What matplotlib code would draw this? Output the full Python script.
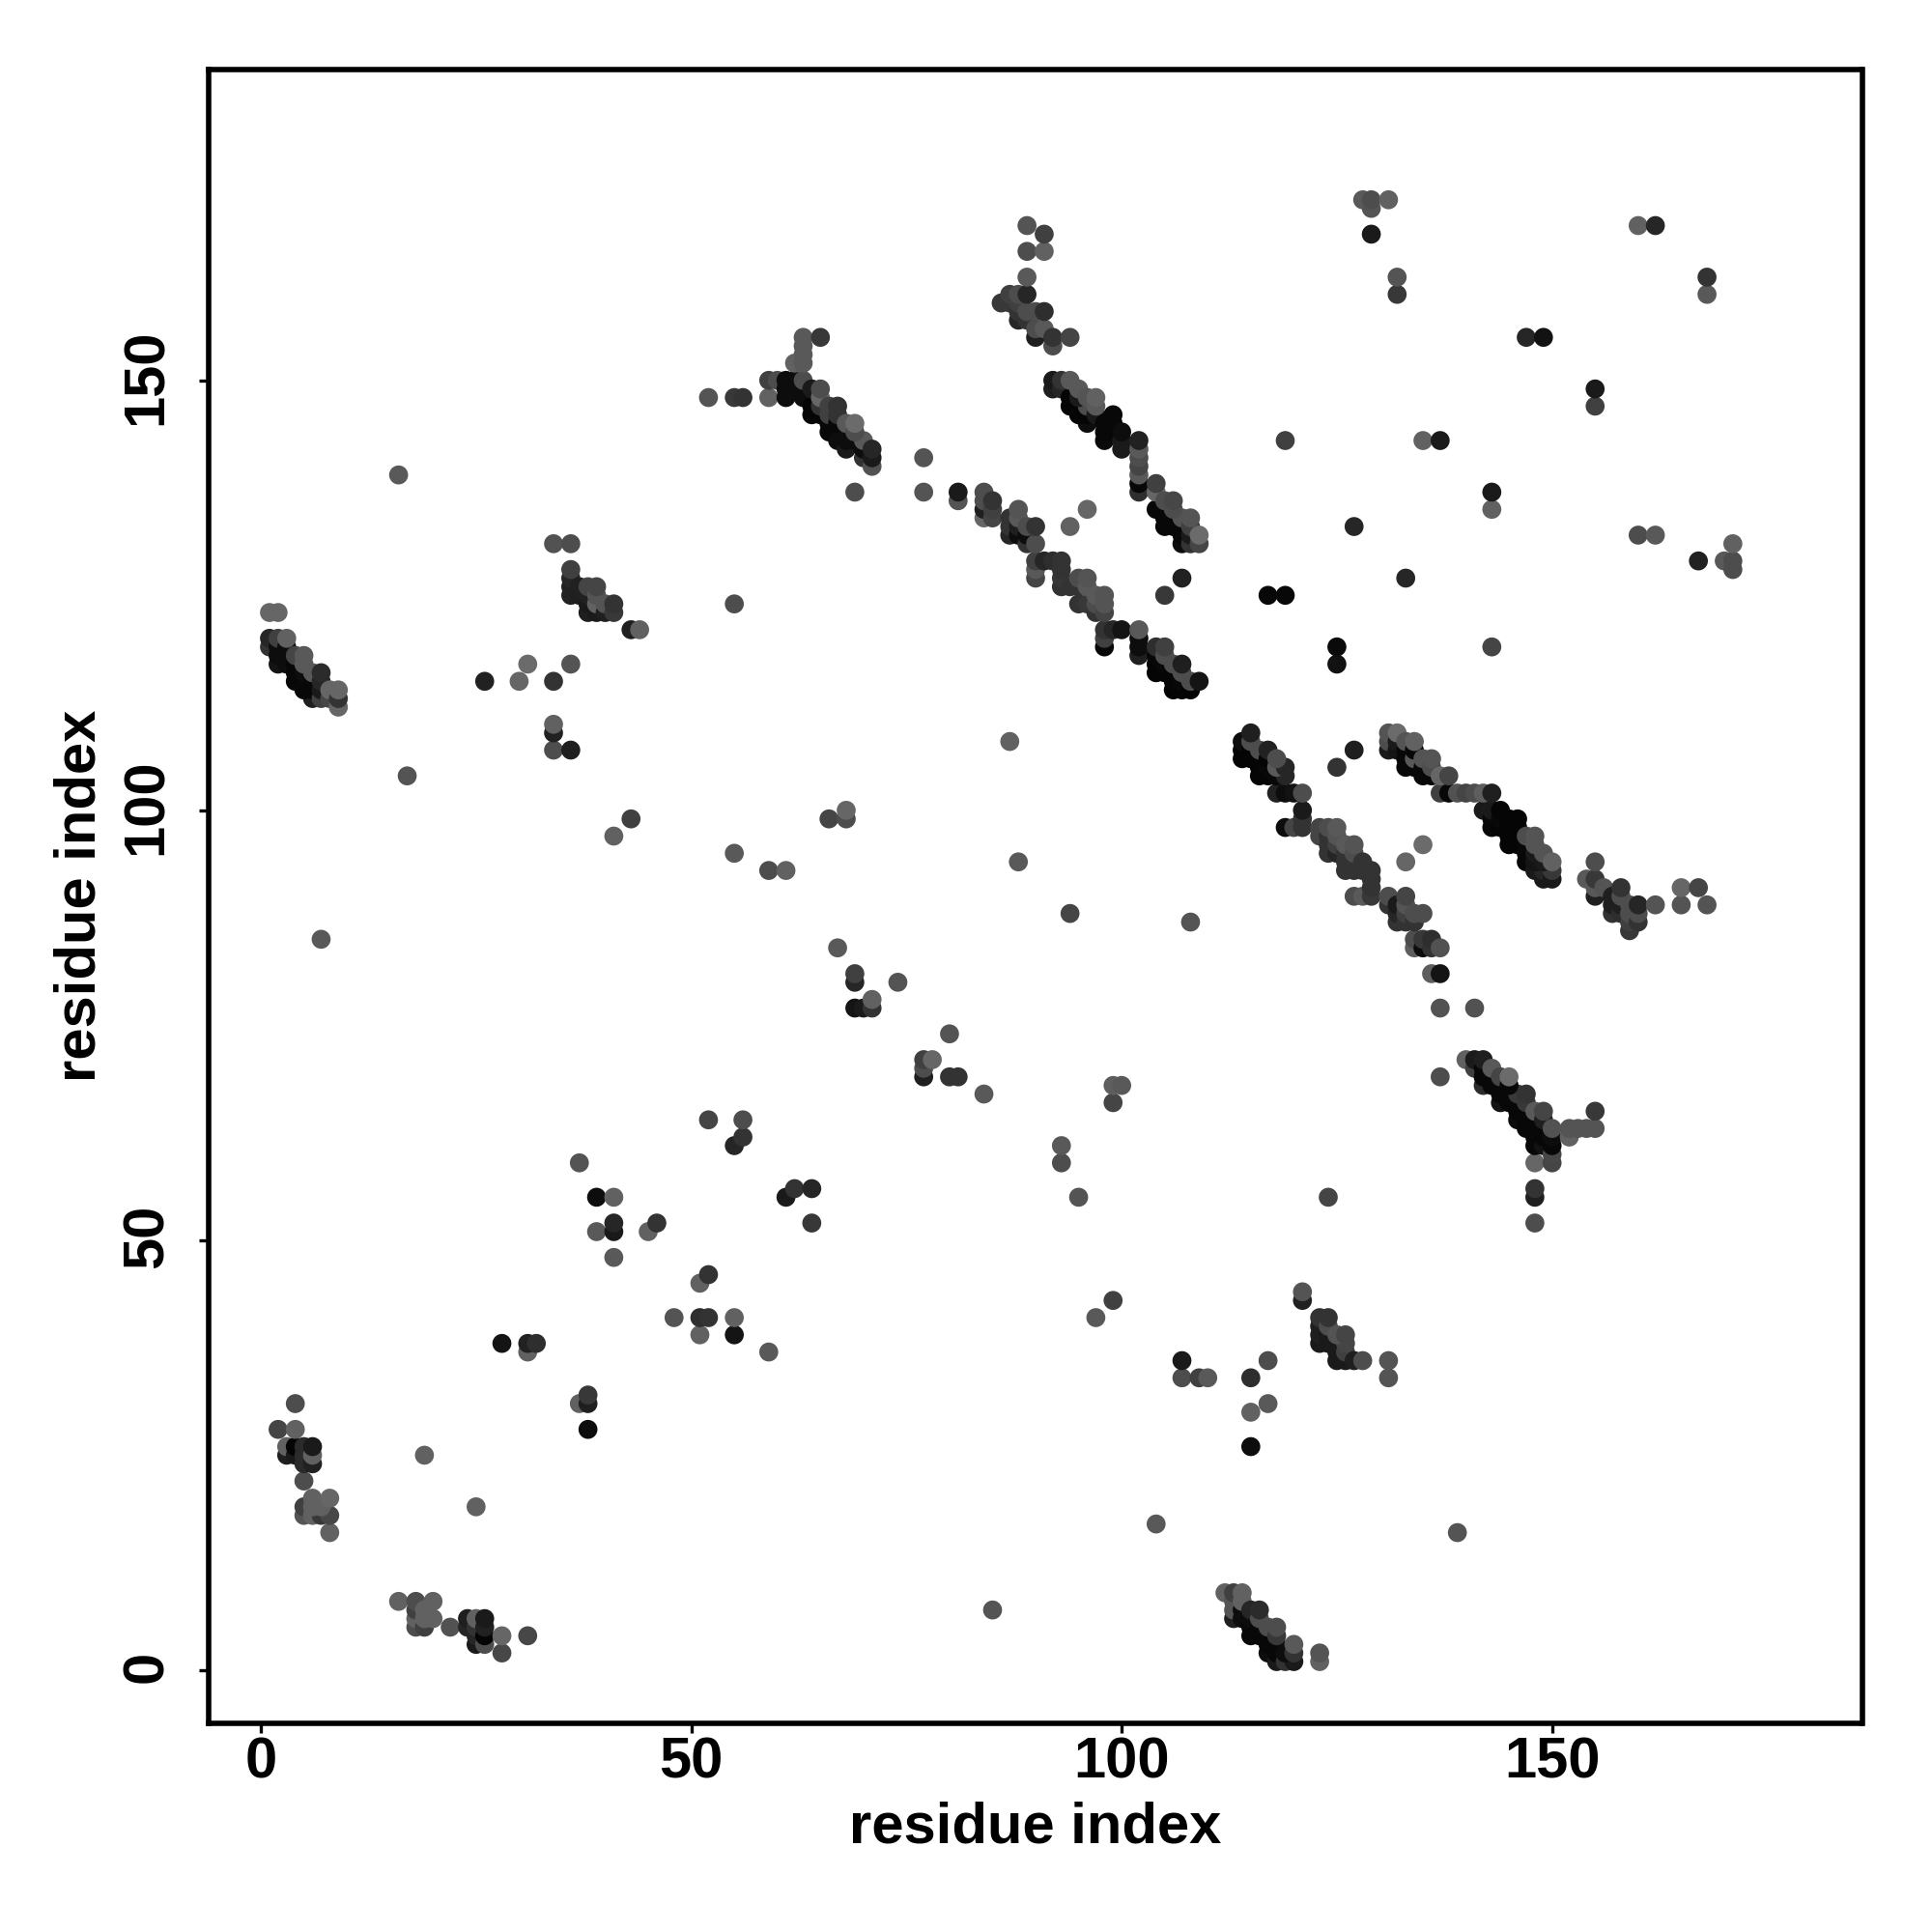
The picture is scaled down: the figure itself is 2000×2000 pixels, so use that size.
import numpy as np
import matplotlib
matplotlib.use('Agg')
import matplotlib.pyplot as plt
from matplotlib.transforms import ScaledTranslation

# contact pairs: (residue i, residue j, grey level of the dot)
top_middle = [(89,168,.33),(91,167,.25),(89,165,.3),(91,165,.38),(89,162,.35),(89,160,.15),(86,159,.22),(87,160,.25),
    (88,160,.3),(87,159,.22),(88,159,.25),(88,158,.2),(89,158,.3),(90,158,.3),(91,158,.18),(88,157,.15),(89,157,.2),
    (90,156,.3),(91,156,.35),(90,155,.12),(92,155,.2),(94,155,.27),(92,154,.3)]
band_a_top = [(63,155,.35),(65,155,.22),(63,154,.35),(63,153,.35),(62,152,.38),(63,152,.35),(59,150,.25),(60,150,.3),
    (61,150,.05),(62,150,.05),(63,150,.3),(59,148,.38),(61,148,.05),(61,149,.05),(62,149,.05),(63,148,.05),(64,149,.1),
    (65,149,.3),(65,148,.4),(64,146,.02),(64,147,.02),(65,147,.2),(66,147,.25),(67,147,.2),(66,146,.25),(67,146,.2),(65,146,.02)]
band_a_low = [(66,144,.03),(66,145,.03),(67,145,.03),(68,145,.35),(69,145,.42),(67,143,.05),(68,142,.1),(68,143,.05),
    (69,143,.05),(70,143,.35),(69,144,.3),(71,142,.15),(70,142,.05),(71,141,.1),(70,141,.2),(71,140,.32),(69,137,.3),
    (77,141,.33),(77,137,.33),(81,137,.1),(81,136,.33)]
band_b_top = [(84,137,.3),(84,136,.3),(84,135,.12),(84,134,.4),(85,136,.2),(85,135,.25),(85,134,.27),(96,135,.4),(94,133,.38),
    (88,135,.33),(87,134,.2),(88,134,.35),(87,133,.2),(88,133,.12),(87,132,.15),(89,133,.3),(90,133,.2),(88,132,.05),
    (89,132,.05),(89,131,.2),(90,131,.3)]
band_b_mid = [(90,129,.25),(91,129,.15),(92,129,.18),(93,129,.2),(90,128,.35),(90,127,.27),(93,128,.2),(93,127,.22),(93,126,.2),
    (95,127,.3),(96,127,.33),(94,126,.2),(95,126,.2),(96,126,.35),(97,125,.35),(98,125,.33),(95,124,.2),(96,124,.22),
    (97,124,.3),(98,124,.33),(97,123,.2),(98,123,.27)]
band_b_low = [(98,121,.2),(99,121,.15),(100,121,.08),(102,121,.35),(98,120,.25),(98,119,.03),(102,120,.05),(102,119,.05),
    (102,118,.12),(104,119,.18),(105,119,.25),(104,118,.03),(104,117,.02),(104,116,.02),(105,118,.3),(105,117,.03),
    (106,117,.3),(107,117,.12),(106,116,.02),(106,115,.02),(107,116,.3),(108,115,.3),(109,115,.08),(105,116,.02),(107,115,.03),
    (106,114,.01),(107,114,.02),(108,114,.01)]
middle_scatter = [(107,127,.13),(105,125,.22),(117,125,.03),(119,125,.03),(127,133,.15),(125,119,.04),(125,117,.07)]
band_c_top = [(92,150,.1),(93,150,.2),(94,150,.35),(92,149,.12),(93,149,.15),(94,148,.02),(94,147,.02),(95,149,.35),(96,148,.33),
    (97,148,.38),(97,147,.35),(96,147,.3),(95,148,.1),(96,145,.05),(96,146,.02),(95,146,.02),(95,147,.02),(97,146,.1),(99,146,.03),
    (99,145,.03),(98,145,.03),(98,143,.04),(98,144,.03),(100,144,.05),(99,144,.03),(100,142,.1),(100,143,.1)]
band_c_low = [(102,143,.13),(102,142,.35),(102,141,.3),(102,140,.27),(102,139,.35),(102,138,.03),(102,137,.18),(104,138,.25),
    (104,137,.4),(105,136,.3),(106,136,.28),(104,135,.03),(105,135,.03),(105,134,.03),(105,133,.03),(106,133,.03),(106,134,.03),
    (107,134,.33),(108,134,.33),(107,133,.03),(107,132,.03),(107,131,.05),(108,132,.1),(108,133,.25),(108,131,.2),(109,132,.42),(109,131,.27),(106,135,.3)]
band_d_top = [(115,109,.12),(114,108,.05),(114,107,.02),(114,106,.02),(115,108,.3),(116,107,.3),(117,107,.13),(115,107,.02),(115,106,.02),
    (116,106,.02),(116,105,.02),(116,104,.02),(117,105,.03),(117,104,.02),(117,106,.02),(119,105,.15),(119,104,.15),(118,105,.35),(118,106,.3),(118,104,.03),
    (118,102,.13),(119,102,.05),(120,102,.07),(121,102,.3),(121,100,.1),(121,99,.2),(119,98,.05),(120,98,.27),(121,98,.2)]
band_d_mid = [(123,98,.27),(124,98,.3),(125,98,.35),(123,97,.27),(124,97,.2),(124,96,.2),(125,97,.33),(124,95,.2),(125,95,.15),
    (125,96,.25),(126,96,.35),(127,96,.33),(126,94,.2),(126,95,.2),(127,95,.3),(126,93,.2),(127,93,.2),(128,93,.2),(129,93,.2),(127,94,.2),
    (128,94,.2),(129,92,.2),(129,91,.2),(127,90,.3),(128,90,.35),(129,90,.22)]
band_d_low = [(131,90,.3),(133,90,.27),(131,89,.2),(132,89,.1),(133,89,.33),(132,88,.15),(133,88,.25),(134,88,.3),(135,88,.3),(132,87,.2),(133,87,.2),(134,87,.2),
    (134,85,.3),(135,85,.22),(136,85,.18),(134,84,.37),(135,84,.05),(136,84,.2),(137,84,.32),(136,81,.37),(137,81,.08),(137,77,.32),(141,77,.32),
    (125,105,.2),(127,107,.12),(135,96,.42),(133,94,.4)]
band_e_top = [(131,109,.33),(132,109,.42),(131,108,.3),(131,107,.1),(132,107,.08),(132,108,.1),(133,108,.33),(134,108,.38),(133,107,.03),(133,106,.03),(133,105,.03),
    (134,107,.03),(134,106,.35),(134,105,.03),(135,106,.33),(136,106,.33),(135,104,.03),(135,105,.03),(136,105,.3),(136,104,.03),(137,104,.4),(138,104,.27),
    (137,102,.25),(138,102,.03),(139,102,.32),(140,102,.27),(141,102,.3),(142,102,.37),(143,102,.12)]
band_e_low = [(142,100,.1),(143,100,.1),(144,100,.02),(145,99,.02),(146,99,.02),(143,98,.03),(143,99,.03),(144,99,.03),(144,98,.02),(145,98,.02),(145,97,.02),
    (145,96,.02),(146,98,.02),(146,97,.02),(146,96,.02),(147,97,.3),(148,97,.33),(147,96,.03),(148,96,.33),(147,94,.03),(147,95,.03),(148,95,.1),
    (149,95,.33),(150,94,.38),(149,93,.15),(150,93,.22),(149,92,.1),(150,92,.1),(148,94,.08),(149,94,.1),(148,93,.1)]
right_tail = [(155,94,.3),(154,92,.35),(155,92,.22),(155,91,.35),(156,91,.33),(155,90,.12),(158,91,.2),(157,90,.12),(158,90,.3),(157,89,.12),(158,89,.12),
    (160,89,.15),(162,89,.33),(157,88,.2),(158,88,.18),(159,88,.3),(160,88,.3),(159,89,.3),(160,87,.2),(159,87,.25),(159,86,.22),(165,91,.4),(167,91,.27),(165,89,.33),(168,89,.33)]
band_f_top = [(137,69,.3),(140,71,.38),(141,71,.1),(142,71,.12),(141,70,.25),(142,70,.03),(143,70,.35),(142,69,.03),(142,68,.17),(143,69,.03),(144,69,.27),
    (145,69,.42),(143,68,.03),(144,68,.03),(144,67,.03),(144,66,.08),(146,67,.22),(147,67,.2),(145,68,.03),(145,67,.03),(145,66,.03),(146,66,.03),(147,66,.22)]
band_f_low = [(146,65,.03),(146,64,.05),(147,65,.03),(148,65,.35),(149,65,.27),(147,64,.03),(148,64,.03),(149,64,.12),(147,63,.03),(148,63,.03),(149,63,.03),(150,63,.32),
    (148,62,.03),(149,62,.03),(148,61,.03),(149,61,.07),(150,62,.05),(150,61,.03),(150,60,.28),(150,59,.27),(148,59,.4),
    (152,63,.33),(153,63,.33),(154,63,.33),(155,63,.33),(152,62,.38),(155,65,.22),(148,56,.2),(148,55,.12),(148,52,.3)]
band_g = [(1,123,.4),(2,123,.4),(1,120,.15),(2,120,.25),(3,120,.38),(1,119,.2),(2,119,.05),(2,118,.05),(2,117,.08),(3,119,.05),(3,118,.05),(3,117,.05),(4,118,.27),(5,118,.35),
    (4,117,.03),(5,117,.35),(4,116,.03),(4,115,.03),(5,116,.05),(6,116,.35),(7,116,.17),(5,115,.03),(6,115,.03),(7,115,.15),(6,114,.03),(6,113,.12),(5,114,.03),
    (7,114,.1),(7,113,.25),(8,114,.4),(9,114,.4),(8,113,.28),(9,113,.2),(9,112,.4)]
left_upper_scatter = [(26,115,.13),(30,115,.4),(31,117,.42),(34,115,.2),(36,117,.33),(34,110,.38),(34,109,.13),(34,107,.3),(36,107,.12)]
band_h = [(34,131,.32),(36,131,.3),(36,128,.25),(36,127,.15),(36,126,.13),(36,125,.13),(37,126,.13),(37,125,.12),(38,126,.27),(39,126,.27),(38,125,.13),(39,125,.33),
    (38,124,.1),(38,123,.12),(39,124,.38),(39,123,.1),(40,124,.33),(40,123,.12),(41,124,.2),(41,123,.22),(43,121,.12),(44,121,.38)]
bottom_left = [(4,31,.3),(2,28,.27),(4,28,.38),(3,26,.38),(4,26,.02),(5,26,.17),(6,26,.1),(3,25,.12),(4,25,.1),(5,25,.17),(6,25,.38),(5,24,.17),(6,24,.13),(5,22,.3),
    (5,19,.25),(6,20,.38),(8,20,.4),(5,18,.33),(6,18,.38),(7,18,.22),(8,18,.28),(8,16,.38),(7,19,.38),(6,19,.38),(19,25,.38),(25,19,.38)]
bottom_band_left = [(16,8,.38),(18,8,.3),(20,8,.38),(18,7,.25),(19,7,.38),(18,6,.38),(19,6,.38),(20,6,.38),(18,5,.3),(19,5,.25),(22,5,.32),(24,6,.12),(25,6,.38),(26,6,.1),
    (24,5,.15),(25,5,.2),(26,5,.13),(25,4,.15),(26,4,.02),(28,4,.4),(31,4,.28),(25,3,.1),(26,3,.3),(28,2,.28)]
bottom_band_right = [(112,9,.38),(113,9,.25),(114,9,.38),(113,8,.33),(114,8,.38),(113,7,.33),(113,6,.12),(114,6,.05),(114,7,.05),(115,7,.15),(116,7,.17),(115,6,.05),(116,6,.3),
    (115,5,.03),(115,4,.03),(116,5,.03),(116,4,.03),(117,5,.3),(118,5,.3),(117,4,.03),(118,4,.22),(117,3,.03),(117,2,.05),(118,3,.03),(118,2,.03),(118,1,.1),(119,1,.2),
    (120,3,.35),(120,2,.2),(120,1,.1),(119,2,.05),(123,2,.33),(123,1,.38)]
bottom_cluster = [(121,44,.33),(121,43,.13),(123,41,.2),(124,41,.2),(123,40,.12),(123,39,.12),(123,38,.1),(124,40,.3),(124,39,.1),(124,38,.1),(126,39,.27),(126,38,.27),(125,39,.33),
    (125,38,.1),(125,36,.1),(125,37,.1),(126,37,.25),(126,36,.1),(127,36,.12),(128,36,.3),(131,36,.33),(131,34,.33)]
top_right_scatter = [(128,171,.35),(129,171,.3),(131,171,.38),(129,170,.33),(129,167,.1),(132,162,.33),(132,160,.22),(160,168,.38),(162,168,.15),(168,162,.2),(168,160,.35),
    (147,155,.15),(149,155,.07),(155,149,.1),(155,147,.25),(119,143,.25),(135,143,.38),(137,143,.1),(143,137,.1),(143,135,.38),(133,127,.15),(160,132,.3),(162,132,.35),
    (167,129,.13),(171,131,.38),(170,129,.35),(171,129,.3),(171,128,.3),(143,119,.27)]
left_scatter = [(16,139,.35),(17,104,.33),(7,85,.35),(55,124,.3),(52,148,.33),(55,148,.22),(56,148,.2),(43,99,.25),(41,97,.38),(55,95,.35),(59,93,.3),(61,93,.38),
    (66,99,.27),(68,99,.3),(68,100,.4),(88,94,.35),(94,88,.27),(108,87,.33),(87,108,.38)]
diag_scatter = [(67,84,.35),(69,81,.25),(69,80,.15),(69,77,.08),(71,77,.2),(70,77,.1),(71,78,.38),(74,80,.33),(77,71,.25),(78,71,.4),(77,69,.12),(77,70,.3),(80,74,.33),
    (80,69,.2),(81,69,.2),(84,67,.35),(99,68,.37),(100,68,.35),(99,66,.27),(93,61,.35),(93,59,.3),(95,55,.33),(124,55,.27)]
lower_scatter = [(56,62,.2),(55,61,.15),(56,64,.3),(52,64,.27),(37,59,.33),(39,55,.05),(41,55,.38),(41,52,.15),(41,51,.1),(39,51,.35),(46,52,.2),(45,51,.38),(41,48,.35),
    (61,55,.1),(62,56,.2),(64,56,.15),(64,52,.22),(52,46,.2),(51,45,.38),(48,41,.33),(51,41,.18),(52,41,.2),(55,41,.38),(51,39,.38),(55,39,.08),(59,37,.35),
    (28,38,.08),(31,38,.13),(32,38,.18),(31,37,.38),(38,32,.22),(37,31,.38),(38,31,.12),(38,28,.05)]
bottom_scatter = [(104,17,.35),(139,16,.33),(85,7,.33),(97,41,.35),(99,43,.25),(107,36,.1),(107,34,.3),(109,34,.25),(110,34,.35),(115,34,.18),(115,30,.38),(117,31,.35),(117,36,.3),(115,26,.05)]

tick_values = [0, 50, 100, 150]
axis_label = 'residue index'

if __name__ == '__main__':
    regions = [top_middle, band_a_top, band_a_low, band_b_top, band_b_mid, band_b_low, middle_scatter, band_c_top, band_c_low,
               band_d_top, band_d_mid, band_d_low, band_e_top, band_e_low, right_tail, band_f_top, band_f_low, band_g,
               left_upper_scatter, band_h, bottom_left, bottom_band_left, bottom_band_right, bottom_cluster,
               top_right_scatter, left_scatter, diag_scatter, lower_scatter, bottom_scatter]
    pts = np.array([p for r in regions for p in r])
    x, y, g = pts[:, 0], pts[:, 1], pts[:, 2]

    plt.rcParams['font.family'] = ['Liberation Sans', 'DejaVu Sans']
    fig = plt.figure(figsize=(10, 10), dpi=200)
    ax = fig.add_axes([215.7 / 2000, 1 - 1783.7 / 2000, (1927.5 - 215.7) / 2000, (1783.7 - 71.5) / 2000])

    # upper right dots end up on top, as in the bands of the original
    order = np.argsort(x + y, kind='stable')
    ax.scatter(x[order], y[order], c=[str(v) for v in g[order]], s=50, linewidths=0, zorder=3)

    ax.set_xlim(-6.1, 186.0)
    ax.set_ylim(-6.15, 186.2)
    ax.set_xticks(tick_values)
    ax.set_yticks(tick_values)
    ax.set_xticklabels(tick_values, fontsize=21.5, fontweight='bold')
    ax.set_yticklabels(tick_values, fontsize=21.5, fontweight='bold', rotation=90, va='center')
    ax.tick_params(length=3.5, width=1.2, pad=1.6)
    ax.tick_params(axis='y', pad=9.3)
    # rotated labels sit a bit low otherwise
    nudge = ScaledTranslation(0, 1.4 / 72, fig.dpi_scale_trans)
    for lab in ax.get_yticklabels():
        lab.set_transform(lab.get_transform() + nudge)
    for s in ax.spines.values():
        s.set_linewidth(2.0)
    ax.set_xlabel(axis_label, fontsize=21.5, fontweight='bold', labelpad=4.3)
    ax.set_ylabel(axis_label, fontsize=21.5, fontweight='bold', labelpad=5.3)
    fig.savefig('out.png', dpi=200)
